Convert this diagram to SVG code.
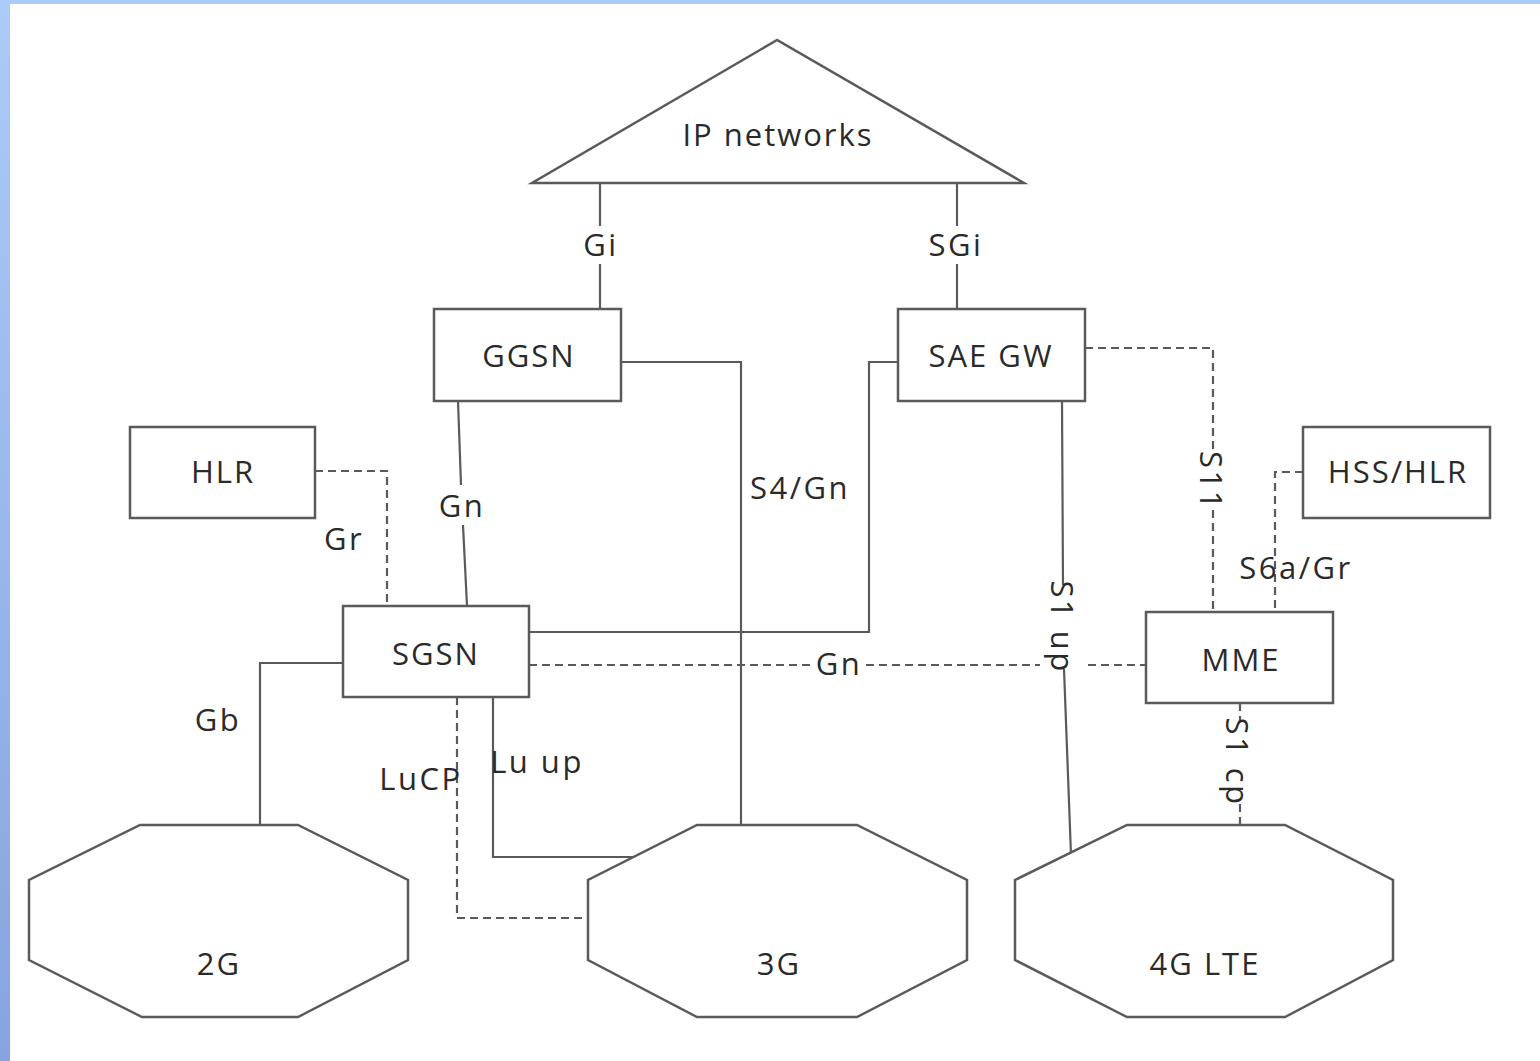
<svg xmlns="http://www.w3.org/2000/svg" width="1540" height="1061" viewBox="0 0 1540 1061">
<defs>
<linearGradient id="bl" x1="0" y1="0" x2="0" y2="1">
<stop offset="0" stop-color="#abcbf8"/>
<stop offset="1" stop-color="#86a4de"/>
</linearGradient>
<style>
.sh{fill:#fff;stroke:#5a5a5a;stroke-width:2.5}
.ln{fill:none;stroke:#5a5a5a;stroke-width:2.2}
.dl{fill:none;stroke:#5a5a5a;stroke-width:2.2;stroke-dasharray:8 5}
.t{font-family:"Open Sans","Noto Sans",sans-serif;font-size:31px;letter-spacing:2px;fill:#2a2a2a;text-anchor:middle;dominant-baseline:central}
.l{font-family:"Open Sans","Noto Sans",sans-serif;font-size:31px;letter-spacing:2.5px;fill:#2a2a2a;text-anchor:middle;dominant-baseline:central}
</style>
</defs>
<rect x="0" y="0" width="1540" height="1061" fill="#fff"/>
<rect x="0" y="0" width="1540" height="4" fill="#abcbf8"/>
<rect x="0" y="0" width="10" height="1061" fill="url(#bl)"/>

<g id="connectors">
<path class="ln" d="M600 183V226M600 264V309"/>
<path class="ln" d="M957 183V226M957 264V309"/>
<path class="ln" d="M458 401L461 485M463 525L467 606"/>
<path class="ln" d="M621 362H741V825"/>
<path class="ln" d="M898 362H869V632H529"/>
<path class="dl" d="M529 665H812M866 665H1040M1088 665H1146"/>
<path class="ln" d="M1062 401L1063 585M1064 669L1071 855"/>
<path class="dl" d="M1085 348H1213V453M1213 510V612"/>
<path class="dl" d="M1303 472H1275V612"/>
<path class="dl" d="M315 471H387V606"/>
<path class="ln" d="M343 663H260V825"/>
<path class="dl" d="M457 697V918H588"/>
<path class="ln" d="M493 697V857H633"/>
<path class="dl" d="M1240 703V721M1240 804V825"/>
</g>

<g id="labels">
<text class="l" x="601" y="244">Gi</text>
<text class="l" x="956" y="244">SGi</text>
<text class="l" x="462" y="505">Gn</text>
<text class="l" x="800" y="487">S4/Gn</text>
<text class="l" x="344" y="538">Gr</text>
<text class="l" x="218" y="719">Gb</text>
<text class="l" x="421" y="778">LuCP</text>
<text class="l" x="537" y="761">Lu up</text>
<text class="l" x="839" y="663">Gn</text>
<text class="l" x="1296" y="567">S6a/Gr</text>
<text class="l" transform="translate(1063,627) rotate(90)">S1 up</text>
<text class="l" transform="translate(1212,481) rotate(90)">S11</text>
<text class="l" transform="translate(1238,762) rotate(90)">S1 cp</text>
</g>

<g id="ip-networks">
<polygon class="sh" points="777,40 532,183 1024,183"/>
<text class="t" x="778" y="134">IP networks</text>
</g>
<g id="ggsn">
<rect class="sh" x="434" y="309" width="187" height="92"/>
<text class="t" x="529" y="355">GGSN</text>
</g>
<g id="sae-gw">
<rect class="sh" x="898" y="309" width="187" height="92"/>
<text class="t" x="991" y="355">SAE GW</text>
</g>
<g id="hlr">
<rect class="sh" x="130" y="427" width="185" height="91"/>
<text class="t" x="223" y="471">HLR</text>
</g>
<g id="hss-hlr">
<rect class="sh" x="1303" y="427" width="187" height="91"/>
<text class="t" x="1398" y="471">HSS/HLR</text>
</g>
<g id="sgsn">
<rect class="sh" x="343" y="606" width="186" height="91"/>
<text class="t" x="436" y="653">SGSN</text>
</g>
<g id="mme">
<rect class="sh" x="1146" y="612" width="187" height="91"/>
<text class="t" x="1241" y="659">MME</text>
</g>
<g id="net-2g">
<polygon class="sh" points="140,825 298,825 408,880 408,960 298,1017 142,1017 29,960 29,880"/>
<text class="t" x="219" y="963">2G</text>
</g>
<g id="net-3g">
<polygon class="sh" points="697,825 857,825 967,880 967,960 857,1017 697,1017 588,960 588,880"/>
<text class="t" x="779" y="963">3G</text>
</g>
<g id="net-4g">
<polygon class="sh" points="1127,825 1285,825 1393,880 1393,960 1285,1017 1127,1017 1015,960 1015,880"/>
<text class="t" x="1205" y="963">4G LTE</text>
</g>
</svg>
